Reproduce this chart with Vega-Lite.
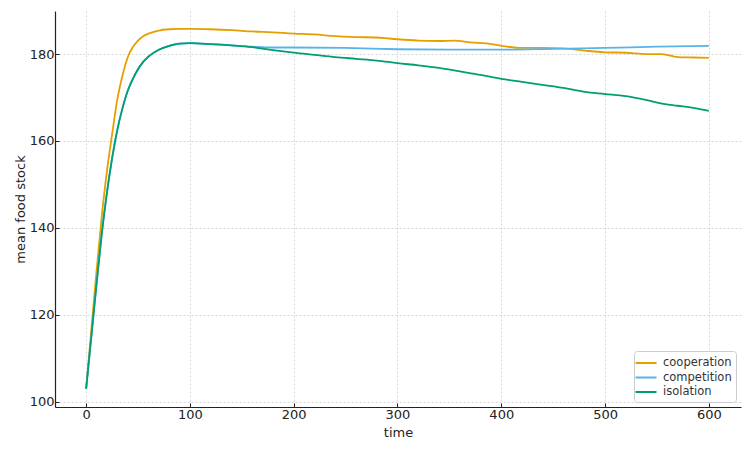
{
  "$schema": "https://vega.github.io/schema/vega-lite/v6.json",
  "width": 686,
  "height": 396,
  "padding": {"left": 55, "top": 11, "right": 11, "bottom": 44},
  "autosize": {"type": "none"},
  "background": "white",
  "config": {
    "font": "DejaVu Sans",
    "view": {"stroke": null},
    "axis": {
      "labelFont": "DejaVu Sans",
      "titleFont": "DejaVu Sans",
      "labelFontSize": 13,
      "titleFontSize": 13,
      "titleFontWeight": "normal",
      "labelColor": "#222",
      "titleColor": "#222",
      "domainColor": "#222",
      "domainWidth": 1.2,
      "tickColor": "#222",
      "tickSize": -4,
      "labelPadding": 5,
      "gridColor": "#cccccc",
      "gridDash": [2, 2],
      "gridWidth": 0.8
    },
    "legend": {
      "labelFont": "DejaVu Sans",
      "labelFontSize": 11.5,
      "labelColor": "#333"
    }
  },
  "data": {
    "values": [
      {"time": 0, "series": "cooperation", "value": 103},
      {"time": 5, "series": "cooperation", "value": 116.5},
      {"time": 10, "series": "cooperation", "value": 130},
      {"time": 15, "series": "cooperation", "value": 142.5},
      {"time": 20, "series": "cooperation", "value": 153},
      {"time": 25, "series": "cooperation", "value": 161.5},
      {"time": 30, "series": "cooperation", "value": 169.5},
      {"time": 35, "series": "cooperation", "value": 175},
      {"time": 40, "series": "cooperation", "value": 179.2},
      {"time": 45, "series": "cooperation", "value": 181.6},
      {"time": 50, "series": "cooperation", "value": 183.1},
      {"time": 55, "series": "cooperation", "value": 184.1},
      {"time": 60, "series": "cooperation", "value": 184.7},
      {"time": 70, "series": "cooperation", "value": 185.4},
      {"time": 80, "series": "cooperation", "value": 185.7},
      {"time": 90, "series": "cooperation", "value": 185.8},
      {"time": 100, "series": "cooperation", "value": 185.8},
      {"time": 120, "series": "cooperation", "value": 185.7},
      {"time": 140, "series": "cooperation", "value": 185.5},
      {"time": 160, "series": "cooperation", "value": 185.2},
      {"time": 180, "series": "cooperation", "value": 185.0},
      {"time": 200, "series": "cooperation", "value": 184.7},
      {"time": 220, "series": "cooperation", "value": 184.5},
      {"time": 240, "series": "cooperation", "value": 184.1},
      {"time": 260, "series": "cooperation", "value": 183.9},
      {"time": 280, "series": "cooperation", "value": 183.8},
      {"time": 300, "series": "cooperation", "value": 183.4},
      {"time": 320, "series": "cooperation", "value": 183.1},
      {"time": 340, "series": "cooperation", "value": 183.0},
      {"time": 355, "series": "cooperation", "value": 183.1},
      {"time": 370, "series": "cooperation", "value": 182.7},
      {"time": 390, "series": "cooperation", "value": 182.3},
      {"time": 400, "series": "cooperation", "value": 181.9},
      {"time": 420, "series": "cooperation", "value": 181.4},
      {"time": 440, "series": "cooperation", "value": 181.4},
      {"time": 460, "series": "cooperation", "value": 181.3},
      {"time": 480, "series": "cooperation", "value": 180.8},
      {"time": 500, "series": "cooperation", "value": 180.4},
      {"time": 520, "series": "cooperation", "value": 180.3},
      {"time": 540, "series": "cooperation", "value": 180.0},
      {"time": 555, "series": "cooperation", "value": 180.0},
      {"time": 570, "series": "cooperation", "value": 179.3},
      {"time": 585, "series": "cooperation", "value": 179.2},
      {"time": 600, "series": "cooperation", "value": 179.1},

      {"time": 0, "series": "competition", "value": 103},
      {"time": 5, "series": "competition", "value": 115},
      {"time": 10, "series": "competition", "value": 127},
      {"time": 15, "series": "competition", "value": 138.5},
      {"time": 20, "series": "competition", "value": 148},
      {"time": 25, "series": "competition", "value": 156},
      {"time": 30, "series": "competition", "value": 162.5},
      {"time": 35, "series": "competition", "value": 167.5},
      {"time": 40, "series": "competition", "value": 171.5},
      {"time": 45, "series": "competition", "value": 174.3},
      {"time": 50, "series": "competition", "value": 176.5},
      {"time": 55, "series": "competition", "value": 178.2},
      {"time": 60, "series": "competition", "value": 179.4},
      {"time": 70, "series": "competition", "value": 181.0},
      {"time": 80, "series": "competition", "value": 181.9},
      {"time": 90, "series": "competition", "value": 182.4},
      {"time": 100, "series": "competition", "value": 182.5},
      {"time": 120, "series": "competition", "value": 182.3},
      {"time": 140, "series": "competition", "value": 182.0},
      {"time": 160, "series": "competition", "value": 181.7},
      {"time": 180, "series": "competition", "value": 181.5},
      {"time": 200, "series": "competition", "value": 181.5},
      {"time": 250, "series": "competition", "value": 181.4},
      {"time": 300, "series": "competition", "value": 181.1},
      {"time": 350, "series": "competition", "value": 181.0},
      {"time": 400, "series": "competition", "value": 181.0},
      {"time": 450, "series": "competition", "value": 181.2},
      {"time": 500, "series": "competition", "value": 181.4},
      {"time": 550, "series": "competition", "value": 181.7},
      {"time": 600, "series": "competition", "value": 181.9},

      {"time": 0, "series": "isolation", "value": 103},
      {"time": 5, "series": "isolation", "value": 115},
      {"time": 10, "series": "isolation", "value": 127},
      {"time": 15, "series": "isolation", "value": 138.5},
      {"time": 20, "series": "isolation", "value": 148},
      {"time": 25, "series": "isolation", "value": 156},
      {"time": 30, "series": "isolation", "value": 162.5},
      {"time": 35, "series": "isolation", "value": 167.5},
      {"time": 40, "series": "isolation", "value": 171.5},
      {"time": 45, "series": "isolation", "value": 174.3},
      {"time": 50, "series": "isolation", "value": 176.5},
      {"time": 55, "series": "isolation", "value": 178.2},
      {"time": 60, "series": "isolation", "value": 179.4},
      {"time": 70, "series": "isolation", "value": 181.0},
      {"time": 80, "series": "isolation", "value": 181.9},
      {"time": 90, "series": "isolation", "value": 182.4},
      {"time": 100, "series": "isolation", "value": 182.5},
      {"time": 120, "series": "isolation", "value": 182.3},
      {"time": 140, "series": "isolation", "value": 182.0},
      {"time": 160, "series": "isolation", "value": 181.6},
      {"time": 180, "series": "isolation", "value": 180.9},
      {"time": 200, "series": "isolation", "value": 180.3},
      {"time": 220, "series": "isolation", "value": 179.8},
      {"time": 240, "series": "isolation", "value": 179.3},
      {"time": 260, "series": "isolation", "value": 178.9},
      {"time": 280, "series": "isolation", "value": 178.5},
      {"time": 300, "series": "isolation", "value": 177.9},
      {"time": 320, "series": "isolation", "value": 177.4},
      {"time": 340, "series": "isolation", "value": 176.8},
      {"time": 360, "series": "isolation", "value": 176.0},
      {"time": 380, "series": "isolation", "value": 175.2},
      {"time": 400, "series": "isolation", "value": 174.3},
      {"time": 420, "series": "isolation", "value": 173.6},
      {"time": 440, "series": "isolation", "value": 172.9},
      {"time": 460, "series": "isolation", "value": 172.2},
      {"time": 480, "series": "isolation", "value": 171.3},
      {"time": 500, "series": "isolation", "value": 170.8},
      {"time": 520, "series": "isolation", "value": 170.3},
      {"time": 540, "series": "isolation", "value": 169.4},
      {"time": 555, "series": "isolation", "value": 168.6},
      {"time": 570, "series": "isolation", "value": 168.1},
      {"time": 585, "series": "isolation", "value": 167.6},
      {"time": 600, "series": "isolation", "value": 166.9}
    ]
  },
  "mark": {"type": "line", "strokeWidth": 1.8, "interpolate": "monotone"},
  "encoding": {
    "x": {
      "field": "time",
      "type": "quantitative",
      "title": "time",
      "scale": {"domain": [-30, 631], "nice": false, "zero": false},
      "axis": {"values": [0, 100, 200, 300, 400, 500, 600], "titlePadding": 5}
    },
    "y": {
      "field": "value",
      "type": "quantitative",
      "title": "mean food stock",
      "scale": {"domain": [98.8, 189.9], "nice": false, "zero": false},
      "axis": {"values": [100, 120, 140, 160, 180], "titlePadding": 2}
    },
    "color": {
      "field": "series",
      "type": "nominal",
      "scale": {
        "domain": ["cooperation", "competition", "isolation"],
        "range": ["#E69F00", "#56B4E9", "#009E73"]
      },
      "legend": {
        "title": null,
        "orient": "bottom-right",
        "offset": 5,
        "symbolType": "M-1.5,0L1.5,0",
        "symbolSize": 196,
        "symbolStrokeWidth": 2,
        "labelOffset": 9,
        "rowPadding": 0.5,
        "padding": 4,
        "strokeColor": "#cccccc",
        "fillColor": "white",
        "cornerRadius": 3
      }
    }
  }
}
